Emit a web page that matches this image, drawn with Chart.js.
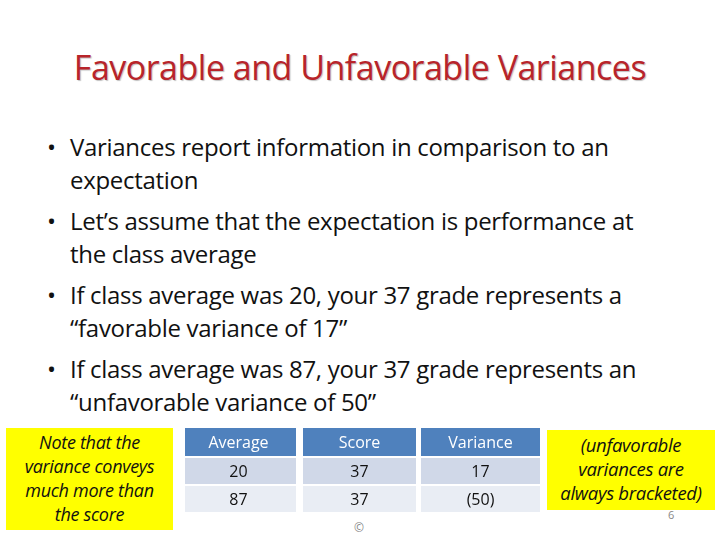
<!DOCTYPE html>
<html><head><meta charset="utf-8">
<script src="https://cdn.jsdelivr.net/npm/chart.js@4"></script>
<style>
body{margin:0;width:720px;height:540px;background:#fff;font-family:"Open Sans","Noto Sans",sans-serif;position:relative;overflow:hidden}
.t{position:absolute;left:0;width:720px;top:44px;text-align:center;color:#B8242A;font-size:34px;letter-spacing:-0.5px;text-shadow:1px 1px 1px rgba(0,0,0,0.25)}
.b{position:absolute;left:48px;font-size:24px;color:#111;line-height:30px}
.b span{position:absolute;left:-1px}
.l{position:absolute;left:70px;font-size:24px;color:#111;white-space:nowrap;letter-spacing:-0.3px;line-height:30px}
.y{position:absolute;background:#FFFF00;font-style:italic;text-align:center;color:#111;font-size:18px;line-height:24px;white-space:nowrap}
#tbl{position:absolute;left:185px;top:428px;width:355px;height:108px}
</style></head><body>
<div class="t">Favorable and Unfavorable Variances</div>
<div id="txt"></div>
<div class="y" style="left:6px;top:428px;width:167px;height:102px;padding-top:2px;box-sizing:border-box;letter-spacing:-0.3px">Note that the<br>variance conveys<br>much more than<br>the score</div>
<div class="y" style="left:547px;top:430px;width:168px;height:80px;padding-top:3px;box-sizing:border-box;font-size:18.5px;letter-spacing:-0.3px">(unfavorable<br>variances are<br>always bracketed)</div>
<div style="position:absolute;left:668px;top:507px;font-size:11px;color:#888">6</div>
<div style="position:absolute;left:354px;top:519px;font-size:12px;color:#888">©</div>
<canvas id="tbl" width="355" height="108"></canvas>
<script>
const bullets=[["Variances report information in comparison to an","expectation"],["Let’s assume that the expectation is performance at","the class average"],["If class average was 20, your 37 grade represents a","“favorable variance of 17”"],["If class average was 87, your 37 grade represents an","“unfavorable variance of 50”"]];
const headers=["Average","Score","Variance"];
const averages=["20","87"];
const scores=["37","37"];
const variances=["17","(50)"];
let h="",y=132;
bullets.forEach(b=>{h+=`<div class="b" style="top:${y}px"><span>•</span></div><div class="l" style="top:${y}px">${b[0]}</div><div class="l" style="top:${y+33}px">${b[1]}</div>`;y+=74;});
document.getElementById('txt').innerHTML=h;
const colX=[[0,111],[118,231],[236,355]];
const tablePlugin={id:'tbl',afterDraw(c){const x=c.ctx;x.save();
 const rows=[{y:0,h:30,bg:'#4F81BD',fg:'#fff',v:headers},{y:30,h:28,bg:'#D0D8E8',fg:'#111',v:[averages[0],scores[0],variances[0]]},{y:58,h:28,bg:'#E9EDF4',fg:'#111',v:[averages[1],scores[1],variances[1]]}];
 x.font='16px "Open Sans"';x.textAlign='center';x.textBaseline='middle';
 rows.forEach(r=>colX.forEach((cx,i)=>{x.fillStyle=r.bg;x.fillRect(cx[0],r.y,cx[1]-cx[0],r.h-2);x.fillStyle=r.fg;x.fillText(r.v[i],(cx[0]+cx[1])/2+(i==0?-2:0),r.y+r.h/2);}));
 x.restore();}};
new Chart(document.getElementById('tbl'),{type:'bar',data:{labels:headers,datasets:[{data:[0,0,0]}]},options:{responsive:false,animation:false,events:[],plugins:{legend:{display:false},tooltip:{enabled:false}},scales:{x:{display:false},y:{display:false}}},plugins:[tablePlugin]});
</script>
</body></html>
